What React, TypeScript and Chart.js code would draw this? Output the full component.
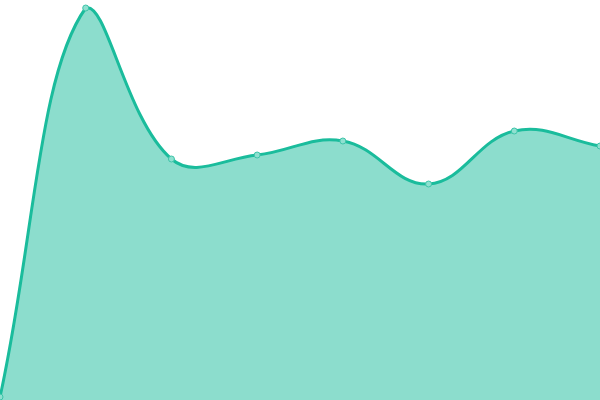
import { useEffect, useRef } from 'react'

import Chart from 'chart.js/auto'

const labels = ['1', '2', '3', '4', '5', '6', '7', '8']
const values = [3, 392, 241, 245, 259, 216, 269, 254]
const yMin = 0
const yMax = 400

export default function App() {
  const canvasRef = useRef<HTMLCanvasElement | null>(null)
  const chartRef = useRef<Chart | null>(null)

  useEffect(() => {
    document.body.style.margin = '0'
    if (!canvasRef.current) return

    chartRef.current = new Chart(canvasRef.current, {
      type: 'line',
      data: {
        labels,
        datasets: [
          {
            data: values,
            fill: 'origin',
            backgroundColor: 'rgba(26, 188, 156, 0.5)',
            borderColor: '#1abc9c',
            borderWidth: 3,
            tension: 0.4,
            pointRadius: 3,
            pointBorderWidth: 1,
            pointBackgroundColor: '#8fe0d0',
            pointBorderColor: '#3cc4a8',
            clip: false,
          },
        ],
      },
      options: {
        animation: false,
        responsive: true,
        maintainAspectRatio: false,
        layout: { padding: 0, autoPadding: false },
        plugins: {
          legend: { display: false },
          tooltip: { enabled: false },
        },
        scales: {
          x: { display: false },
          y: { display: false, min: yMin, max: yMax },
        },
      },
    })

    return () => {
      if (chartRef.current) {
        chartRef.current.destroy()
        chartRef.current = null
      }
    }
  }, [])

  return (
    <div style={{ position: 'absolute', top: 0, left: 0, width: 600, height: 400 }}>
      <canvas ref={canvasRef} />
    </div>
  )
}
